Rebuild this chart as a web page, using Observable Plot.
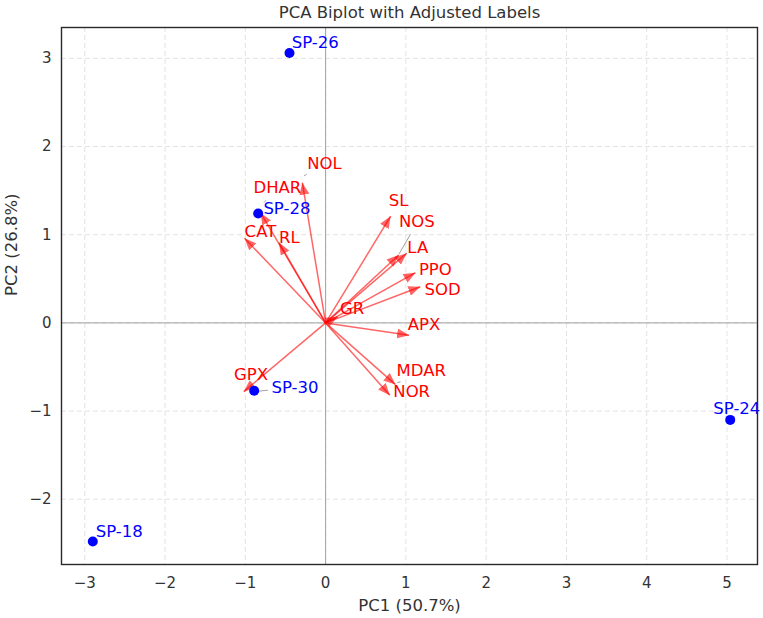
<!DOCTYPE html>
<html>
<head>
<meta charset="utf-8">
<script src="https://cdn.jsdelivr.net/npm/d3@7"></script>
<script src="https://cdn.jsdelivr.net/npm/@observablehq/plot@0.6"></script>
<style>
  html, body { margin: 0; padding: 0; background: #fff; }
  #chart svg { display: block; }
</style>
</head>
<body>
<div id="chart"></div>
<script>
// Sample scores (PC1, PC2)
const samples = ["SP-18", "SP-24", "SP-26", "SP-28", "SP-30"];
const scorePC1 = [-2.90, 5.04, -0.45, -0.84, -0.89];
const scorePC2 = [-2.48, -1.10, 3.06, 1.24, -0.77];
// Adjusted sample label positions
const sampleLabelX = [-2.864, 4.83, -0.423, -0.775, -0.675];
const sampleLabelY = [-2.366, -0.975, 3.178, 1.29, -0.734];

// Variable loadings (arrow tips)
const variables = ["NOL", "DHAR", "CAT", "RL", "SL", "NOS", "LA", "PPO", "SOD", "GR", "APX", "MDAR", "NOR", "GPX"];
const loadPC1 = [-0.29, -0.81, -1.01, -0.58, 0.81, 0.91, 1.01, 1.12, 1.18, 0.15, 1.04, 0.87, 0.80, -1.02];
const loadPC2 = [1.59, 1.25, 0.96, 0.91, 1.21, 0.77, 0.79, 0.57, 0.41, 0.07, -0.14, -0.70, -0.82, -0.78];
// Adjusted variable label positions
const varLabelX = [-0.229, -0.899, -1.009, -0.58, 0.788, 0.913, 1.018, 1.162, 1.233, 0.178, 1.024, 0.884, 0.843, -1.142];
const varLabelY = [1.80, 1.533, 1.035, 0.966, 1.391, 1.145, 0.847, 0.608, 0.374, 0.162, -0.026, -0.544, -0.779, -0.590];

// Label connector lines (from -> to)
const connX1 = [1.058, -0.83, -0.27, -0.768, 0.893];
const connY1 = [1.006, -0.774, 1.666, 1.364, -0.677];
const connX2 = [0.913, -0.719, -0.237, -0.743, 0.934];
const connY2 = [0.779, -0.763, 1.685, 1.391, -0.669];

const xTicks = [-3, -2, -1, 0, 1, 2, 3, 4, 5];
const yTicks = [-2, -1, 0, 1, 2, 3];

const title = "PCA Biplot with Adjusted Labels";
const xLabel = "PC1 (50.7%)";
const yLabel = "PC2 (26.8%)";

const sampleData = samples.map((s, i) => ({name: s, x: scorePC1[i], y: scorePC2[i], lx: sampleLabelX[i], ly: sampleLabelY[i]}));
const varData = variables.map((v, i) => ({name: v, x: loadPC1[i], y: loadPC2[i], lx: varLabelX[i], ly: varLabelY[i]}));
const connData = connX1.map((d, i) => ({x1: connX1[i], y1: connY1[i], x2: connX2[i], y2: connY2[i]}));

const fmt = d => d < 0 ? "\u2212" + Math.abs(d) : String(d);

function headMarker(color, context) {
  const doc = (context && context.document) || document;
  const ns = "http://www.w3.org/2000/svg";
  const m = doc.createElementNS(ns, "marker");
  m.setAttribute("viewBox", "-12 -5 12 10");
  m.setAttribute("markerWidth", 12);
  m.setAttribute("markerHeight", 10);
  m.setAttribute("refX", 0);
  m.setAttribute("refY", 0);
  m.setAttribute("markerUnits", "userSpaceOnUse");
  m.setAttribute("orient", "auto");
  const p = doc.createElementNS(ns, "path");
  p.setAttribute("d", "M-12,-5L0,0L-12,5Z");
  p.setAttribute("fill", "#ff0000");
  p.setAttribute("fill-opacity", 0.6);
  p.setAttribute("stroke", "none");
  m.appendChild(p);
  return m;
}

const chart = Plot.plot({
  width: 763,
  height: 618,
  marginLeft: 61,
  marginRight: 6,
  marginTop: 27,
  marginBottom: 54,
  style: {fontFamily: "DejaVu Sans", background: "#fff", color: "#333"},
  x: {domain: [-3.29, 5.38], ticks: xTicks, tickFormat: fmt, label: null},
  y: {domain: [-2.74, 3.35], ticks: yTicks, tickFormat: fmt, label: null},
  marks: [
    Plot.gridX(xTicks, {stroke: "#d0d0d0", strokeOpacity: 0.6, strokeDasharray: "5,3"}),
    Plot.gridY(yTicks, {stroke: "#d0d0d0", strokeOpacity: 0.6, strokeDasharray: "5,3"}),
    Plot.ruleX([0], {stroke: "#a0a0a0", strokeWidth: 1}),
    Plot.ruleY([0], {stroke: "#a0a0a0", strokeWidth: 1}),
    Plot.axisX(xTicks, {tickSize: 0, tickPadding: 13, fontSize: 15, tickFormat: fmt, label: null, fill: "#333"}),
    Plot.axisY(yTicks, {tickSize: 0, tickPadding: 10, fontSize: 15, tickFormat: fmt, label: null, fill: "#333"}),
    Plot.link(varData, {
      x1: 0, y1: 0, x2: "x", y2: "y",
      stroke: "#ff0000", strokeOpacity: 0.6, strokeWidth: 1.5,
      markerEnd: headMarker
    }),
    Plot.link(connData, {x1: "x1", y1: "y1", x2: "x2", y2: "y2", stroke: "#888", strokeWidth: 0.8}),
    Plot.text(varData, {x: "lx", y: "ly", text: "name", fill: "#ff0000", fontSize: 16.5, textAnchor: "start"}),
    Plot.dot(sampleData, {x: "x", y: "y", r: 5, fill: "#0000ff", stroke: "none"}),
    Plot.text(sampleData, {x: "lx", y: "ly", text: "name", fill: "#0000ff", fontSize: 16.5, textAnchor: "start"}),
    Plot.frame({stroke: "#2a2a2a", strokeWidth: 1.4}),
    Plot.text([title], {frameAnchor: "top", lineAnchor: "middle", dy: -15, fontSize: 16.5, fill: "#333"}),
    Plot.text([xLabel], {frameAnchor: "bottom", lineAnchor: "middle", dy: 41, fontSize: 16.5, fill: "#333"}),
    Plot.text([yLabel], {frameAnchor: "left", dx: -50, rotate: -90, fontSize: 16.5, fill: "#333"})
  ]
});
document.getElementById("chart").appendChild(chart);
</script>
</body>
</html>
